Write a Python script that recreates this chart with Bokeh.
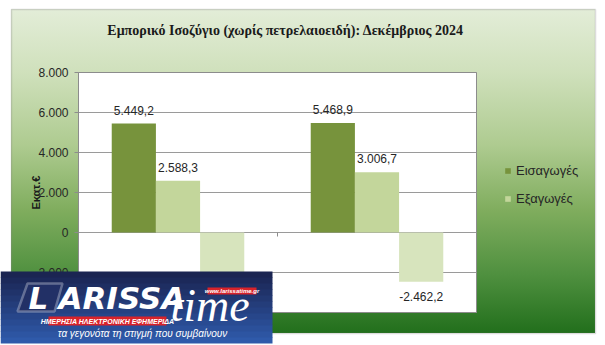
from bokeh.plotting import figure
from bokeh.models import (ColumnDataSource, Range1d, FixedTicker, LabelSet, LinearAxis,
                          Label, BoxAnnotation, PolyAnnotation, Legend, LegendItem)
from bokeh.core.properties import value
from bokeh.transform import dodge
from bokeh.embed import file_html
from bokeh.resources import INLINE

# ---------------- data ----------------
title_text = "Εμπορικό Ισοζύγιο (χωρίς πετρελαιοειδή): Δεκέμβριος 2024"
categories = ["Δεκέμβριος 2023", "Δεκέμβριος 2024"]
imports = [5449.2, 5468.9]
exports = [2588.3, 3006.7]
balance = [-2860.9, -2462.2]
series_names = ["Εισαγωγές", "Εξαγωγές", "Ισοζύγιο"]
y_ticks = [-4000, -2000, 0, 2000, 4000, 6000, 8000]
y_tick_labels = ["-4.000", "-2.000", "0", "2.000", "4.000", "6.000", "8.000"]
y_label = "Εκατ.€"
y_min, y_max = -4000, 8000


def fmt(v):
    s = f"{v:,.1f}"
    return s.replace(",", "X").replace(".", ",").replace("X", ".")


ncat = len(categories)
src = ColumnDataSource(dict(
    cat=categories, pos=[i + 0.5 for i in range(ncat)],
    imp=imports, exp=exports, bal=balance,
    imp_t=[fmt(v) for v in imports], exp_t=[fmt(v) for v in exports],
    bal_t=[fmt(v) for v in balance]))

C_IMP = "#77933c"
C_EXP = "#c3d69b"
C_BAL = "#d7e4bd"
TXT = "#262626"
GRID = "#9a9a9a"
FONT = "Liberation Sans"

# ---------------- layout (pixels) ----------------
W, H = 605, 345
PA_L, PA_R, PA_T, PA_B = 78, 476, 72, 312   # plot area on canvas

p = figure(width=W, height=H, x_range=Range1d(0, W), y_range=Range1d(H, 0),
           output_backend="svg", toolbar_location=None,
           x_axis_location=None, y_axis_location=None,
           min_border=0, background_fill_color=None, border_fill_color=None,
           outline_line_color=None)
p.grid.visible = False
p.styles = {
    "background-color": "white",
    "background-image": "linear-gradient(180deg, #e3edd8 0%, #cfe0bb 20%, #aecb90 42%, "
                        "#80ad5e 62%, #4f903f 82%, #226f1c 100%)",
    "background-position": "11px 9px",
    "background-size": "584px 324px",
    "background-repeat": "no-repeat",
}

# data ranges mapped onto the plot area
kx = ncat / (PA_R - PA_L)
ky = (y_max - y_min) / (PA_B - PA_T)
p.extra_x_ranges = {"cx": Range1d(-PA_L * kx, ncat + (W - PA_R) * kx)}
p.extra_y_ranges = {"cy": Range1d(y_min - (H - PA_B) * ky, y_max + PA_T * ky)}
D = dict(x_range_name="cx", y_range_name="cy")

# outer chart border
p.add_layout(BoxAnnotation(left=11, right=595, top=9, bottom=333, fill_color=None,
                           line_color="#8c8c8c", line_width=1.5, level="underlay"))

# plot area
p.quad(left=[0], right=[ncat], bottom=[y_min], top=[y_max], fill_color="white",
       line_color=None, **D)
p.segment(x0=[0] * len(y_ticks), x1=[ncat] * len(y_ticks), y0=y_ticks, y1=y_ticks,
          line_color=GRID, line_width=1, **D)
p.quad(left=[0], right=[ncat], bottom=[y_min], top=[y_max], fill_color=None,
       line_color="#8c8c8c", line_width=1, **D)

yax = LinearAxis(fixed_location=0, bounds=(y_min, y_max), **D)
yax.ticker = FixedTicker(ticks=y_ticks)
yax.major_label_overrides = {t: l for t, l in zip(y_ticks, y_tick_labels)}
yax.major_tick_out = 4
yax.major_tick_in = 0
yax.minor_tick_out = 0
yax.minor_tick_in = 0
yax.axis_line_color = "#8c8c8c"
yax.major_tick_line_color = "#8c8c8c"
yax.major_label_standoff = 6
yax.major_label_text_font = FONT
yax.major_label_text_font_size = "12px"
yax.major_label_text_color = TXT
yax.axis_label = y_label
yax.axis_label_text_font = FONT
yax.axis_label_text_font_size = "11px"
yax.axis_label_text_font_style = "bold"
yax.axis_label_text_color = "#1a1a1a"
yax.axis_label_standoff = -11
p.add_layout(yax, "left")

xax = LinearAxis(fixed_location=0, bounds=(0, ncat), **D)
xax.ticker = FixedTicker(ticks=list(range(1, ncat)))
xax.major_label_overrides = {i: "" for i in range(1, ncat)}
xax.major_tick_out = 4
xax.major_tick_in = 0
xax.minor_tick_out = 0
xax.axis_line_color = None
xax.major_tick_line_color = "#8c8c8c"
p.add_layout(xax, "below")

bw = 0.222
r_imp = p.vbar(x=dodge("pos", -bw), top="imp", width=bw, source=src,
               fill_color=C_IMP, line_color=None, **D)
r_exp = p.vbar(x=dodge("pos", 0), top="exp", width=bw, source=src,
               fill_color=C_EXP, line_color=None, **D)
r_bal = p.vbar(x=dodge("pos", bw), top="bal", width=bw, source=src,
               fill_color=C_BAL, line_color=None, **D)

for off, fld, txt in [(-bw, "imp", "imp_t"), (0, "exp", "exp_t")]:
    p.add_layout(LabelSet(x=dodge("pos", off), y=fld, text=txt, source=src,
                          text_align="center", text_baseline="bottom", y_offset=9,
                          text_font=value(FONT), text_font_size="12px", text_color=TXT, **D))
p.add_layout(LabelSet(x=dodge("pos", bw), y="bal", text="bal_t", source=src,
                      text_align="center", text_baseline="top", y_offset=-10,
                      text_font=value(FONT), text_font_size="12px", text_color=TXT, **D))

legend = Legend(items=[LegendItem(label=series_names[0], renderers=[r_imp]),
                       LegendItem(label=series_names[1], renderers=[r_exp])],
                location=(504, H - 206), orientation="vertical", glyph_width=7,
                glyph_height=7, label_standoff=5, padding=0, margin=0, spacing=13,
                label_height=14, border_line_color=None, background_fill_alpha=0,
                label_text_font=FONT, label_text_font_size="13px", label_text_color=TXT)
p.add_layout(legend)

# chart title
p.add_layout(Label(x=285, y=30, text=title_text, text_align="center", text_baseline="middle",
                   text_font="Liberation Serif", text_font_style="bold",
                   text_font_size="14px", text_color="#1a1a1a"))

# ---------------- logo overlay ----------------
logo_top, logo_bot = 271, 343
n = 12
c0 = (0x1b, 0x25, 0x52)
c1 = (0x2f, 0x5a, 0xaa)
for i in range(n):
    t = i / (n - 1)
    col = "#%02x%02x%02x" % tuple(int(a + (b - a) * t) for a, b in zip(c0, c1))
    y0 = logo_top + (logo_bot - logo_top) * i / n
    y1 = logo_top + (logo_bot - logo_top) * (i + 1) / n + 0.6
    p.add_layout(BoxAnnotation(left=0, right=272, top=y0, bottom=min(y1, logo_bot),
                               fill_color=col, fill_alpha=1, line_color=None,
                               level="overlay"))

p.add_layout(PolyAnnotation(xs=[27, 62, 54, 17], ys=[283, 283, 311, 311],
                            fill_color="#223066", fill_alpha=1,
                            line_color="white", line_width=2.5, level="overlay"))
LOGO = [
    dict(x=38, y=297, text="L", text_align="center", text_baseline="middle",
         text_font="DejaVu Sans", text_font_style="bold italic", text_font_size="31px"),
    dict(x=58, y=297, text="ARISSA", text_align="left", text_baseline="middle",
         text_font="DejaVu Sans", text_font_style="bold italic", text_font_size="31px"),
    dict(x=170, y=305, text="time", text_align="left", text_baseline="middle",
         text_font="Liberation Serif", text_font_style="italic", text_font_size="46px"),
]
for d in LOGO:
    p.add_layout(Label(text_color="white", level="overlay", **d))
p.add_layout(BoxAnnotation(left=207, right=256, top=287, bottom=294, fill_color="#d8232a",
                           fill_alpha=1, line_color=None, level="overlay"))
p.add_layout(Label(x=231.5, y=290.5, text="www.larissatime.gr", text_align="center",
                   text_baseline="middle", text_font=FONT, text_font_style="bold italic",
                   text_font_size="6px", text_color="white", level="overlay"))
p.add_layout(BoxAnnotation(left=48, right=166, top=316, bottom=325, fill_color="#d8232a",
                           fill_alpha=1, line_color=None, level="overlay"))
p.add_layout(Label(x=107, y=320.5, text="ΗΜΕΡΗΣΙΑ ΗΛΕΚΤΡΟΝΙΚΗ ΕΦΗΜΕΡΙΔΑ",
                   text_align="center", text_baseline="middle", text_font=FONT,
                   text_font_style="bold italic", text_font_size="7px", text_color="white",
                   level="overlay"))
p.add_layout(Label(x=142, y=333, text="τα γεγονότα τη στιγμή που συμβαίνουν",
                   text_align="center", text_baseline="middle", text_font=FONT,
                   text_font_style="italic", text_font_size="10px", text_color="white",
                   level="overlay"))

open("out.html", "w").write(file_html(p, INLINE))
